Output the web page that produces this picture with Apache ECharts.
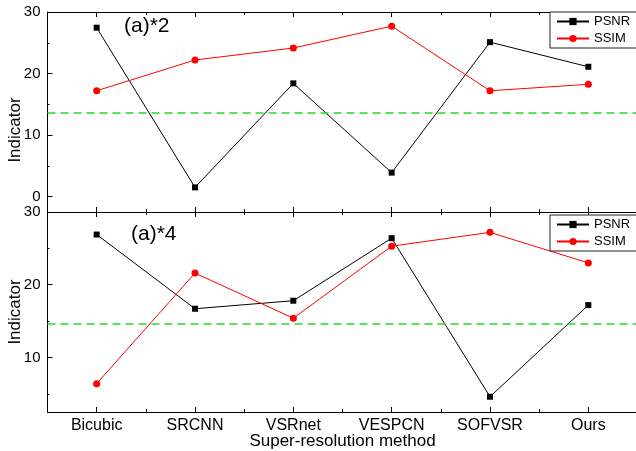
<!DOCTYPE html>
<html>
<head>
<meta charset="utf-8">
<script src="https://cdn.jsdelivr.net/npm/echarts@6/dist/echarts.min.js"></script>
<style>
html,body{margin:0;padding:0;background:#fff;}
#main{width:636px;height:451px;}
</style>
</head>
<body>
<div id="main"></div>
<script>
// data
var categories = ['Bicubic', 'SRCNN', 'VSRnet', 'VESPCN', 'SOFVSR', 'Ours'];
var psnrX2 = [27.45, 1.5, 18.4, 3.9, 25.1, 21.1];
var ssimX2 = [17.2, 22.2, 24.15, 27.7, 17.2, 18.25];
var psnrX4 = [26.9, 16.7, 17.8, 26.4, 4.6, 17.2];
var ssimX4 = [6.4, 21.6, 15.4, 25.3, 27.2, 23.0];
var thresholds = [13.55, 14.7];
var yTicksTop = [0, 10, 20, 30];
var yTicksBottom = [10, 20, 30];
var yMinorTicks = [5, 15, 25];
var panelLabels = ['(a)*2', '(a)*4'];

var FONT = 'Liberation Sans, Arial, sans-serif';

function catAxis(grid, pos, major, showLabel) {
	return {
		type: 'category',
		gridIndex: grid,
		position: pos,
		data: categories,
		axisLine: { show: major, onZero: false, lineStyle: { color: '#000', width: 1 } },
		axisTick: major ? { show: true, alignWithLabel: true, inside: true, length: 5, interval: 0, lineStyle: { color: '#000', width: 1 } }
		                : { show: true, inside: true, length: 3, interval: 0, lineStyle: { color: '#000', width: 1 } },
		axisLabel: { show: showLabel, interval: 0, color: '#000', fontSize: 16, fontFamily: FONT, margin: 6 },
		splitLine: { show: false },
		name: showLabel ? 'Super-resolution method' : '',
		nameLocation: 'middle',
		nameGap: 21,
		nameMoveOverlap: false,
		nameTextStyle: { color: '#000', fontSize: 17, fontFamily: FONT }
	};
}

function valAxis(grid, min, ticks, namePad) {
	return [{
		type: 'value',
		gridIndex: grid,
		position: 'left',
		min: min,
		max: 30,
		name: 'Indicator',
		nameLocation: 'middle',
		nameGap: 24,
		nameMoveOverlap: false,
		nameTextStyle: { color: '#000', fontSize: 17, fontFamily: FONT, padding: namePad },
		axisLine: { show: true, lineStyle: { color: '#000', width: 1 } },
		axisTick: { show: true, inside: true, length: 5, customValues: ticks, lineStyle: { color: '#000', width: 1 } },
		axisLabel: { customValues: ticks, color: '#000', fontSize: 15, fontFamily: FONT, margin: 7 },
		splitLine: { show: false }
	}, {
		type: 'value',
		gridIndex: grid,
		position: 'left',
		min: min,
		max: 30,
		axisLine: { show: false },
		axisTick: { show: true, inside: true, length: 2, customValues: yMinorTicks, lineStyle: { color: '#000', width: 1 } },
		axisLabel: { show: false },
		splitLine: { show: false }
	}, {
		type: 'value',
		gridIndex: grid,
		position: 'right',
		min: min,
		max: 30,
		axisLine: { show: true, lineStyle: { color: '#000', width: 1 } },
		axisTick: { show: false },
		axisLabel: { show: false },
		splitLine: { show: false }
	}];
}

function lineSeries(name, data, xi, yi, color, symbol, size, thr) {
	var s = {
		name: name,
		type: 'line',
		xAxisIndex: xi,
		yAxisIndex: yi,
		data: data,
		symbol: symbol,
		symbolSize: size,
		lineStyle: { color: color, width: 1 },
		itemStyle: { color: color },
		animation: false
	};
	if (thr != null) {
		s.markLine = {
			silent: true,
			symbol: 'none',
			label: { show: false },
			lineStyle: { color: '#22dd22', type: [8, 5], width: 1.5 },
			data: [{ yAxis: thr }]
		};
	}
	return s;
}

function legendAt(top) {
	return {
		orient: 'vertical',
		left: 550,
		top: top,
		padding: [3, 9, 3, 6],
		itemWidth: 32,
		itemHeight: 9,
		itemGap: 4,
		borderColor: '#222',
		borderWidth: 1,
		backgroundColor: '#fff',
		textStyle: { color: '#000', fontSize: 13, fontFamily: FONT },
		data: ['PSNR', 'SSIM']
	};
}

var chart = echarts.init(document.getElementById('main'));
chart.setOption({
	backgroundColor: '#fff',
	animation: false,
	grid: [
		{ left: 47.5, right: -1.5, top: 12, height: 200, outerBoundsMode: 'none', containLabel: false },
		{ left: 47.5, right: -1.5, top: 212, height: 200, outerBoundsMode: 'none', containLabel: false }
	],
	legend: [legendAt(12), legendAt(215)],
	xAxis: [
		catAxis(0, 'bottom', true, false),
		catAxis(0, 'bottom', false, false),
		catAxis(0, 'top', true, false),
		catAxis(0, 'top', false, false),
		catAxis(1, 'bottom', true, true),
		catAxis(1, 'bottom', false, false),
		catAxis(1, 'top', true, false),
		catAxis(1, 'top', false, false)
	],
	yAxis: valAxis(0, -2.5, yTicksTop, [0, 36, 0, 0]).concat(valAxis(1, 2.5, yTicksBottom, 0)),
	series: [
		lineSeries('PSNR', psnrX2, 0, 0, '#000', 'rect', 6, thresholds[0]),
		lineSeries('SSIM', ssimX2, 0, 0, '#ff0000', 'circle', 7, null),
		lineSeries('PSNR', psnrX4, 4, 3, '#000', 'rect', 6, thresholds[1]),
		lineSeries('SSIM', ssimX4, 4, 3, '#ff0000', 'circle', 7, null)
	],
	graphic: [
		{ type: 'text', left: 124, top: 16, style: { text: panelLabels[0], fill: '#000', font: '21px ' + FONT } },
		{ type: 'text', left: 131, top: 224, style: { text: panelLabels[1], fill: '#000', font: '21px ' + FONT } }
	]
});
</script>
</body>
</html>
